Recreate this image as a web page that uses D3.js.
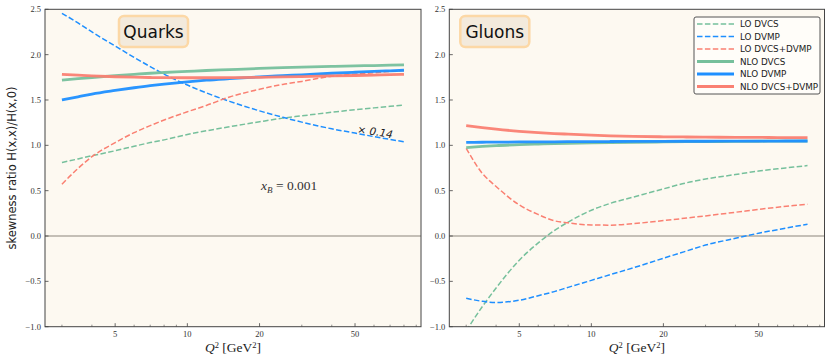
<!DOCTYPE html>
<html><head><meta charset="utf-8">
<script src="https://cdn.jsdelivr.net/npm/d3@7"></script>
<style>
html,body{margin:0;padding:0;background:#fff;}
svg{display:block;}
</style></head>
<body>
<svg id="chart" width="825" height="356"></svg>
<script>
// ---- data ----
const q2 = [3, 3.5, 4, 5, 6, 7, 8, 10, 12, 15, 20, 25, 30, 40, 50, 60, 70, 80];

const quarksLO_DVCS     = [0.81, 0.85, 0.885, 0.94, 0.99, 1.03, 1.06, 1.12, 1.16, 1.205, 1.26, 1.30, 1.325, 1.365, 1.392, 1.413, 1.43, 1.445];
const quarksLO_DVMP     = [2.456, 2.35, 2.25, 2.095, 1.97, 1.868, 1.785, 1.665, 1.578, 1.485, 1.38, 1.309, 1.256, 1.182, 1.135, 1.096, 1.065, 1.04];
const quarksLO_Both     = [0.571, 0.745, 0.875, 1.03, 1.14, 1.217, 1.279, 1.37, 1.44, 1.533, 1.618, 1.672, 1.705, 1.763, 1.785, 1.80, 1.815, 1.825];
const quarksNLO_DVCS    = [1.72, 1.735, 1.748, 1.768, 1.783, 1.795, 1.803, 1.815, 1.825, 1.835, 1.848, 1.856, 1.862, 1.87, 1.876, 1.88, 1.884, 1.887];
const quarksNLO_DVMP    = [1.50, 1.535, 1.565, 1.605, 1.635, 1.658, 1.675, 1.70, 1.718, 1.735, 1.755, 1.768, 1.778, 1.795, 1.806, 1.815, 1.822, 1.828];
const quarksNLO_Both    = [1.783, 1.774, 1.766, 1.756, 1.751, 1.748, 1.746, 1.745, 1.745, 1.746, 1.75, 1.754, 1.758, 1.765, 1.77, 1.775, 1.779, 1.783];

const gluonsLO_DVCS     = [-1.045, -0.78, -0.573, -0.267, -0.076, 0.06, 0.154, 0.284, 0.36, 0.43, 0.52, 0.587, 0.628, 0.678, 0.717, 0.741, 0.76, 0.777];
const gluonsLO_DVMP     = [-0.686, -0.72, -0.733, -0.708, -0.658, -0.613, -0.566, -0.489, -0.426, -0.35, -0.245, -0.165, -0.10, -0.025, 0.031, 0.07, 0.103, 0.13];
const gluonsLO_Both     = [0.967, 0.692, 0.546, 0.343, 0.237, 0.168, 0.145, 0.122, 0.12, 0.136, 0.17, 0.198, 0.222, 0.262, 0.294, 0.318, 0.336, 0.35];
const gluonsNLO_DVCS    = [0.975, 0.988, 0.997, 1.007, 1.014, 1.019, 1.023, 1.028, 1.031, 1.034, 1.037, 1.04, 1.041, 1.043, 1.045, 1.046, 1.047, 1.048];
const gluonsNLO_DVMP    = [1.033, 1.034, 1.035, 1.037, 1.038, 1.039, 1.04, 1.041, 1.042, 1.043, 1.044, 1.045, 1.045, 1.046, 1.047, 1.047, 1.048, 1.048];
const gluonsNLO_Both    = [1.217, 1.195, 1.178, 1.155, 1.14, 1.13, 1.123, 1.112, 1.105, 1.098, 1.094, 1.092, 1.09, 1.088, 1.087, 1.086, 1.085, 1.085];

const seriesNames = ["LO DVCS", "LO DVMP", "LO DVCS+DVMP", "NLO DVCS", "NLO DVMP", "NLO DVCS+DVMP"];
const seriesColors = ["#76c09c", "#1e8fff", "#fa8072", "#76c09c", "#1e8fff", "#fa8072"];
const seriesDashed = [true, true, true, false, false, false];

const xMajorTicks = [5, 10, 20, 50];
const xMinorTicks = [3, 4, 6, 7, 8, 9, 30, 40, 60, 70, 80, 90];
const yTicks = [-1.0, -0.5, 0.0, 0.5, 1.0, 1.5, 2.0, 2.5];

const panels = [
  {title: "Quarks", series: [quarksLO_DVCS, quarksLO_DVMP, quarksLO_Both, quarksNLO_DVCS, quarksNLO_DVMP, quarksNLO_Both]},
  {title: "Gluons", series: [gluonsLO_DVCS, gluonsLO_DVMP, gluonsLO_Both, gluonsNLO_DVCS, gluonsNLO_DVMP, gluonsNLO_Both]}
];

// ---- layout ----
const svg = d3.select("#chart");
const yTop = 9.3, yBottom = 326.7;
const panelX = [[45, 421], [449.3, 824.5]];
const serif = "'Liberation Serif', 'DejaVu Serif', serif";
const sans = "'DejaVu Sans', sans-serif";
const fmt = v => (v < 0 ? "\u2212" : "") + Math.abs(v).toFixed(1);

panels.forEach((p, pi) => {
  const [x0, x1] = panelX[pi];
  const x = d3.scaleLog().domain([2.55, 94.2]).range([x0, x1]);
  const y = d3.scaleLinear().domain([-1, 2.5]).range([yBottom, yTop]);
  const g = svg.append("g");

  g.append("rect").attr("x", x0).attr("y", yTop).attr("width", x1 - x0).attr("height", yBottom - yTop)
    .attr("fill", "#fdf9f1");

  const clipId = "clip" + pi;
  svg.append("clipPath").attr("id", clipId).append("rect")
    .attr("x", x0).attr("y", yTop).attr("width", x1 - x0).attr("height", yBottom - yTop);

  // zero line
  g.append("line").attr("x1", x0).attr("x2", x1).attr("y1", y(0)).attr("y2", y(0))
    .attr("stroke", "#c4bfb6").attr("stroke-width", 1.8);

  // curves
  const line = d3.line().x((d, i) => x(q2[i])).y(d => y(d)).curve(d3.curveMonotoneX);
  const lg = g.append("g").attr("clip-path", `url(#${clipId})`);
  p.series.forEach((s, si) => {
    lg.append("path").attr("d", line(s)).attr("fill", "none")
      .attr("stroke", seriesColors[si])
      .attr("stroke-width", seriesDashed[si] ? 1.5 : 2.8)
      .attr("stroke-dasharray", seriesDashed[si] ? "5.5,2.4" : null)
      .attr("stroke-opacity", seriesDashed[si] ? 1 : 0.95);
  });

  // frame
  g.append("rect").attr("x", x0).attr("y", yTop).attr("width", x1 - x0).attr("height", yBottom - yTop)
    .attr("fill", "none").attr("stroke", "#444").attr("stroke-width", 1);

  // x ticks (inward)
  xMajorTicks.forEach(t => {
    g.append("line").attr("x1", x(t)).attr("x2", x(t)).attr("y1", yBottom).attr("y2", yBottom - 3.5)
      .attr("stroke", "#444").attr("stroke-width", 0.8);
    g.append("text").attr("x", x(t)).attr("y", yBottom + 10.5).attr("text-anchor", "middle")
      .attr("font-family", serif).attr("font-size", 8.5).attr("fill", "#333").text(t);
  });
  xMinorTicks.forEach(t => {
    g.append("line").attr("x1", x(t)).attr("x2", x(t)).attr("y1", yBottom).attr("y2", yBottom - 2)
      .attr("stroke", "#444").attr("stroke-width", 0.6);
  });
  // y ticks
  yTicks.forEach(t => {
    g.append("line").attr("x1", x0).attr("x2", x0 + 3.5).attr("y1", y(t)).attr("y2", y(t))
      .attr("stroke", "#444").attr("stroke-width", 0.8);
    g.append("text").attr("x", x0 - 4).attr("y", y(t) + 3).attr("text-anchor", "end")
      .attr("font-family", serif).attr("font-size", 8.5).attr("fill", "#333").text(fmt(t));
  });

  // x label
  const xl = g.append("text").attr("x", (x0 + x1) / 2).attr("y", 352).attr("text-anchor", "middle")
    .attr("font-family", serif).attr("font-size", 13.5).attr("fill", "#222");
  xl.append("tspan").attr("font-style", "italic").text("Q");
  xl.append("tspan").attr("font-size", 8.5).attr("dy", -4.5).text("2");
  xl.append("tspan").attr("dy", 4.5).text(" [GeV");
  xl.append("tspan").attr("font-size", 8.5).attr("dy", -4.5).text("2");
  xl.append("tspan").attr("dy", 4.5).text("]");

  // title box
  const bx = x0 + 74 + (pi === 1 ? -63 : 0);
  const tb = g.append("g");
  tb.append("rect").attr("x", bx).attr("y", 16).attr("width", 69).attr("height", 31).attr("rx", 5)
    .attr("fill", "#f3eadc").attr("stroke", "#fcd8a6").attr("stroke-width", 2.5);
  tb.append("text").attr("x", bx + 34.5).attr("y", 38).attr("text-anchor", "middle")
    .attr("font-family", sans).attr("font-size", 17).attr("fill", "#111").text(p.title);

  if (pi === 0) {
    // annotations
    g.append("text").attr("transform", `translate(${x(51)},${y(1.14)}) rotate(9)`)
      .attr("font-family", sans).attr("font-style", "italic").attr("font-size", 10.5).attr("fill", "#222")
      .text("\u00d7 0.14");
    const xb = g.append("text").attr("x", x(20.3)).attr("y", y(0.51))
      .attr("font-family", serif).attr("font-size", 13.5).attr("fill", "#333");
    xb.append("tspan").attr("font-style", "italic").text("x");
    xb.append("tspan").attr("font-style", "italic").attr("font-size", 9).attr("dy", 3).text("B");
    xb.append("tspan").attr("dy", -3).text(" = 0.001");
  }

  if (pi === 1) {
    // legend
    const lx = 694, ly = 17;
    const leg = g.append("g");
    leg.append("rect").attr("x", lx).attr("y", ly).attr("width", 126).attr("height", 77).attr("rx", 2)
      .attr("fill", "#fffdf9").attr("stroke", "#555").attr("stroke-width", 1);
    seriesNames.forEach((n, i) => {
      const yy = ly + 7 + i * 12.5;
      leg.append("line").attr("x1", lx + 3).attr("x2", lx + 40).attr("y1", yy).attr("y2", yy)
        .attr("stroke", seriesColors[i]).attr("stroke-width", seriesDashed[i] ? 1.5 : 2.8)
        .attr("stroke-dasharray", seriesDashed[i] ? "5.5,2.4" : null);
      leg.append("text").attr("x", lx + 46).attr("y", yy + 3.2)
        .attr("font-family", sans).attr("font-size", 8.8).attr("fill", "#222").text(n);
    });
  }
});

// y label
svg.append("text").attr("transform", "translate(16,168) rotate(-90)").attr("text-anchor", "middle")
  .attr("font-family", sans).attr("font-size", 11.5).attr("fill", "#222")
  .text("skewness ratio H(x,x)/H(x,0)");
</script>
</body></html>
